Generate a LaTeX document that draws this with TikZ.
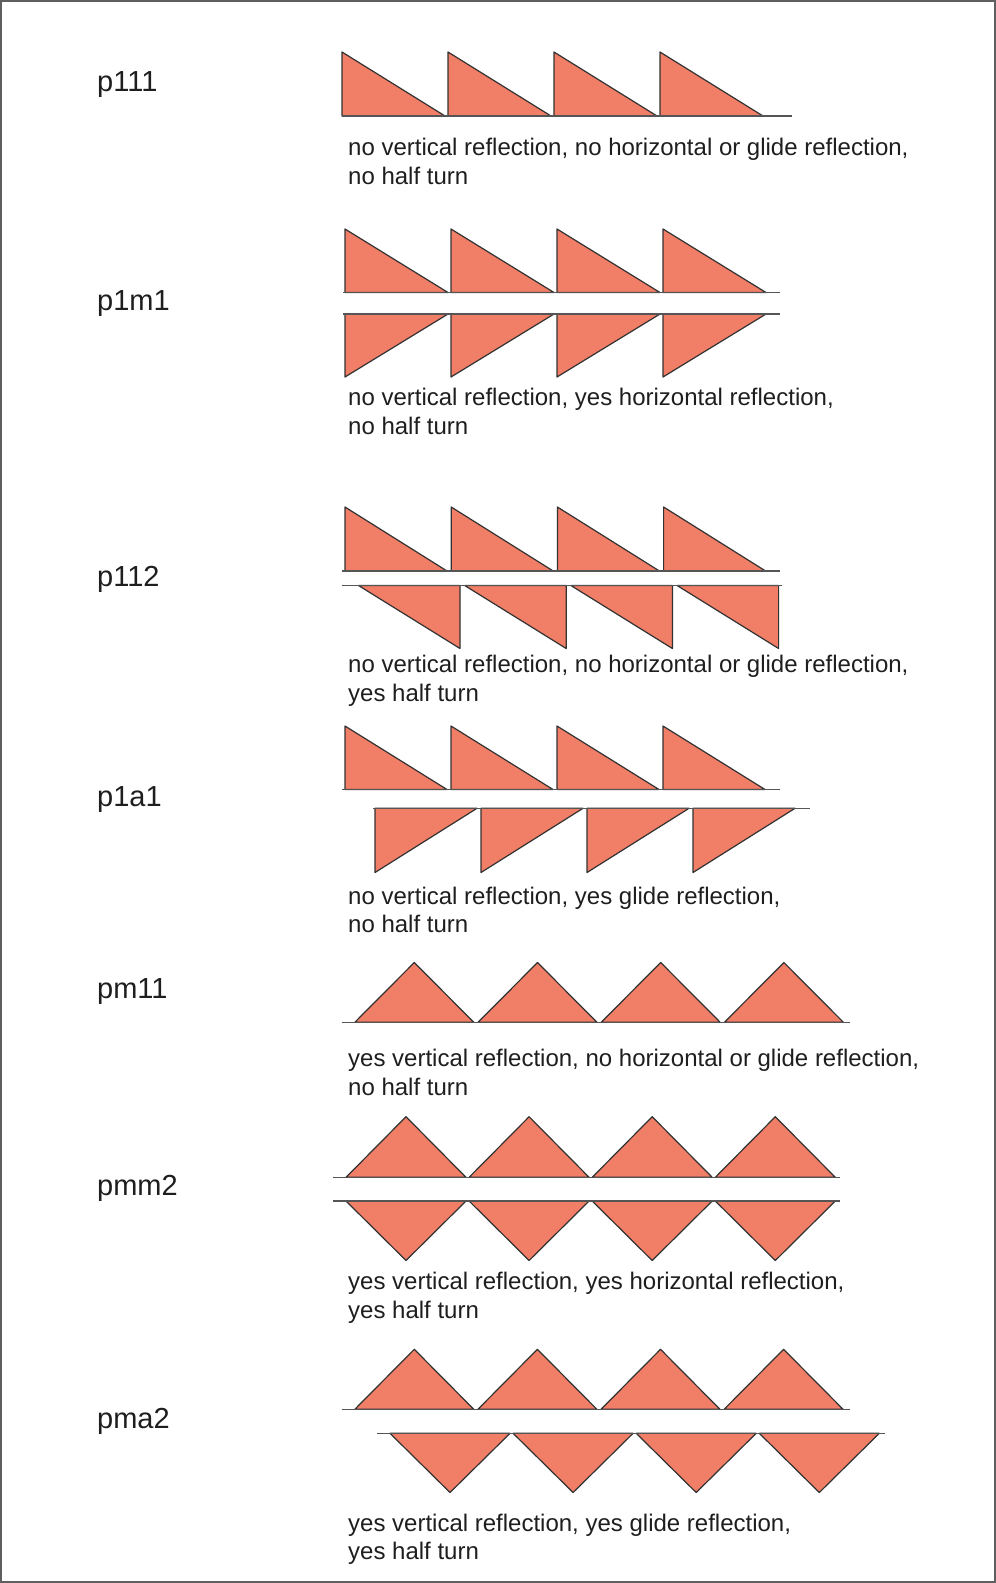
\documentclass[tikz,border=0pt]{standalone}
\usepackage{fontspec}
\setmainfont{Liberation Sans}
\definecolor{tri}{RGB}{241,126,103}
\definecolor{edge}{RGB}{50,50,50}
\definecolor{baseline}{RGB}{85,85,85}
\definecolor{txt}{RGB}{30,30,30}
\definecolor{frame}{RGB}{95,95,95}
\tikzset{
  trishape/.style={fill=tri,draw=edge,line width=1.2pt,line join=round},
  axisline/.style={draw=baseline,line width=1.6pt},
  lbl/.style={anchor=base west,inner sep=0pt,text=txt,font=\fontsize{29}{35}\selectfont},
  desc/.style={anchor=base west,inner sep=0pt,text=txt,font=\fontsize{24}{29}\selectfont}
}
\begin{document}
\begin{tikzpicture}[x=1pt,y=-1pt]
\useasboundingbox (0,0) rectangle (996,1583);
\draw[frame,line width=2pt] (1,1) rectangle (995,1582);

% ---------- p111 ----------
\node[lbl] (l1) at (97,91) {p111};
\foreach \i in {0,...,3}{
  \pgfmathsetmacro{\x}{342+106*\i}
  \path[trishape] (\x,52) -- (\x,116) -- (\x+103,116) -- cycle;
}
\draw[axisline] (342,116) -- (792,116);
\node[desc] (d1a) at (348,155) {no vertical reflection, no horizontal or glide reflection,};
\node[desc] (d1b) at (348,184) {no half turn};

% ---------- p1m1 ----------
\node[lbl] (l2) at (97,310) {p1m1};
\foreach \i in {0,...,3}{
  \pgfmathsetmacro{\x}{345+106*\i}
  \path[trishape] (\x,229) -- (\x,292.5) -- (\x+103,292.5) -- cycle;
  \path[trishape] (\x,314) -- (\x+103,314) -- (\x,377) -- cycle;
}
\draw[axisline] (343,292.5) -- (780,292.5);
\draw[axisline] (343,314) -- (780,314);
\node[desc] (d2a) at (348,405.5) {no vertical reflection, yes horizontal reflection,};
\node[desc] (d2b) at (348,434) {no half turn};

% ---------- p112 ----------
\node[lbl] (l3) at (97,586) {p112};
\foreach \i in {0,...,3}{
  \pgfmathsetmacro{\x}{345+106.2*\i}
  \path[trishape] (\x,507) -- (\x,571) -- (\x+102,571) -- cycle;
  \path[trishape] (\x+13.5,585.5) -- (\x+115,585.5) -- (\x+115,648.5) -- cycle;
}
\draw[axisline] (342,571) -- (780,571);
\draw[axisline] (342,585.5) -- (782,585.5);
\node[desc] (d3a) at (348,672) {no vertical reflection, no horizontal or glide reflection,};
\node[desc] (d3b) at (348,701) {yes half turn};

% ---------- p1a1 ----------
\node[lbl] (l4) at (97,806) {p1a1};
\foreach \i in {0,...,3}{
  \pgfmathsetmacro{\x}{345+106*\i}
  \path[trishape] (\x,726) -- (\x,789.5) -- (\x+102,789.5) -- cycle;
  \pgfmathsetmacro{\y}{375+106*\i}
  \path[trishape] (\y,808.3) -- (\y+102,808.3) -- (\y,872.5) -- cycle;
}
\draw[axisline] (342,789.5) -- (780,789.5);
\draw[axisline] (373,808.3) -- (810,808.3);
\node[desc] (d4a) at (348,904) {no vertical reflection, yes glide reflection,};
\node[desc] (d4b) at (348,932.5) {no half turn};

% ---------- pm11 ----------
\node[lbl] (l5) at (97,998) {pm11};
\foreach \i in {0,...,3}{
  \pgfmathsetmacro{\x}{414.3+123.2*\i}
  \path[trishape] (\x-59.5,1022.3) -- (\x,962.5) -- (\x+59.5,1022.3) -- cycle;
}
\draw[axisline] (341.7,1022.3) -- (850,1022.3);
\node[desc] (d5a) at (348,1066.5) {yes vertical reflection, no horizontal or glide reflection,};
\node[desc] (d5b) at (348,1095) {no half turn};

% ---------- pmm2 ----------
\node[lbl] (l6) at (97,1195) {pmm2};
\foreach \i in {0,...,3}{
  \pgfmathsetmacro{\x}{406+123.1*\i}
  \path[trishape] (\x-60,1177.3) -- (\x,1116.7) -- (\x+60,1177.3) -- cycle;
  \path[trishape] (\x-60,1201) -- (\x,1260.5) -- (\x+60,1201) -- cycle;
}
\draw[axisline] (333,1177.3) -- (840,1177.3);
\draw[axisline] (333,1201) -- (840,1201);
\node[desc] (d6a) at (348,1289.5) {yes vertical reflection, yes horizontal reflection,};
\node[desc] (d6b) at (348,1318) {yes half turn};

% ---------- pma2 ----------
\node[lbl] (l7) at (97,1428) {pma2};
\foreach \i in {0,...,3}{
  \pgfmathsetmacro{\x}{414.3+123.1*\i}
  \path[trishape] (\x-59.5,1409.3) -- (\x,1349.3) -- (\x+59.5,1409.3) -- cycle;
  \pgfmathsetmacro{\y}{450+123.1*\i}
  \path[trishape] (\y-60,1433.3) -- (\y,1492.5) -- (\y+60,1433.3) -- cycle;
}
\draw[axisline] (341.7,1409.3) -- (850,1409.3);
\draw[axisline] (376.7,1433.3) -- (885,1433.3);
\node[desc] (d7a) at (348,1531) {yes vertical reflection, yes glide reflection,};
\node[desc] (d7b) at (348,1559.5) {yes half turn};
\end{tikzpicture}
\end{document}
